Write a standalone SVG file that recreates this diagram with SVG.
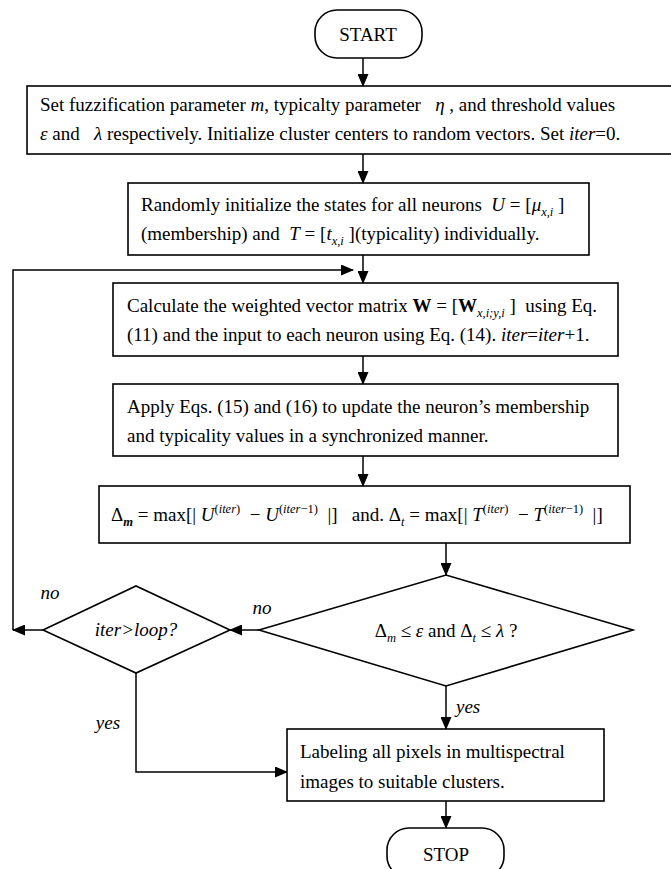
<svg xmlns="http://www.w3.org/2000/svg" width="671" height="869" viewBox="0 0 671 869">
<defs>
<marker id="ah" markerWidth="13" markerHeight="11" refX="12" refY="5.5" orient="auto" markerUnits="userSpaceOnUse">
<path d="M0,0 L13,5.5 L0,11 Z" fill="#000"/>
</marker>
<style>
.box{fill:#fff;stroke:#000;stroke-width:1.6}
.ln{fill:none;stroke:#000;stroke-width:1.5}
text{font-family:"Liberation Serif","Times New Roman",serif;font-size:19px;fill:#000;white-space:pre}
.i{font-style:italic}
.b{font-weight:bold}
.s{font-size:12.5px}
</style>
</defs>
<rect width="671" height="869" fill="#fff"/>

<g id="connectors">
<line class="ln" x1="363" y1="58" x2="363" y2="86" marker-end="url(#ah)"/>
<line class="ln" x1="363" y1="154" x2="363" y2="183" marker-end="url(#ah)"/>
<line class="ln" x1="363" y1="255" x2="363" y2="283" marker-end="url(#ah)"/>
<polyline class="ln" points="13,630 13,270 353,270" marker-end="url(#ah)"/>
<line class="ln" x1="363" y1="356" x2="363" y2="384" marker-end="url(#ah)"/>
<line class="ln" x1="363" y1="456" x2="363" y2="486" marker-end="url(#ah)"/>
<line class="ln" x1="446" y1="543" x2="446" y2="575" marker-end="url(#ah)"/>
<line class="ln" x1="259" y1="630" x2="230" y2="630" marker-end="url(#ah)"/>
<line class="ln" x1="43" y1="630" x2="13" y2="630" marker-end="url(#ah)"/>
<polyline class="ln" points="136,673 136,772 287,772" marker-end="url(#ah)"/>
<line class="ln" x1="446" y1="686" x2="446" y2="729" marker-end="url(#ah)"/>
<line class="ln" x1="446" y1="801" x2="446" y2="828" marker-end="url(#ah)"/>
<text class="i" x="262" y="614" text-anchor="middle">no</text>
<text class="i" x="50" y="599" text-anchor="middle">no</text>
<text class="i" x="108" y="729" text-anchor="middle">yes</text>
<text class="i" x="456" y="713">yes</text>
</g>

<g id="start">
<rect class="box" x="315" y="10" width="107" height="48" rx="22" ry="22"/>
<text x="368" y="41" text-anchor="middle">START</text>
</g>

<g id="init-params">
<rect class="box" x="27" y="86" width="680" height="68"/>
<text x="40" y="111">Set fuzzification parameter <tspan class="i">m</tspan>, typicalty parameter   <tspan class="i">η</tspan> , and threshold values</text>
<text x="40" y="140"><tspan class="i">ε</tspan> and   <tspan class="i">λ</tspan> respectively. Initialize cluster centers to random vectors. Set <tspan class="i">iter</tspan>=0.</text>
</g>

<g id="init-states">
<rect class="box" x="128" y="183" width="461" height="72"/>
<text x="141" y="211">Randomly initialize the states for all neurons  <tspan class="i">U</tspan> = [<tspan class="i">μ</tspan><tspan class="i s" dy="5">x,i</tspan><tspan dy="-5"> ]</tspan></text>
<text x="141" y="240">(membership) and  <tspan class="i">T</tspan> = [<tspan class="i">t</tspan><tspan class="i s" dy="5">x,i</tspan><tspan dy="-5"> ](typicality) individually.</tspan></text>
</g>

<g id="calc-weights">
<rect class="box" x="113" y="283" width="505" height="73"/>
<text x="127" y="312">Calculate the weighted vector matrix <tspan class="b">W</tspan> = [<tspan class="b">W</tspan><tspan class="i s" dy="5">x,i;y,i</tspan><tspan dy="-5"> ]  using Eq.</tspan></text>
<text x="127" y="341">(11) and the input to each neuron using Eq. (14). <tspan class="i">iter</tspan>=<tspan class="i">iter</tspan>+1.</text>
</g>

<g id="apply-eqs">
<rect class="box" x="113" y="384" width="505" height="72"/>
<text x="127" y="413">Apply Eqs. (15) and (16) to update the neuron’s membership</text>
<text x="127" y="442">and typicality values in a synchronized manner.</text>
</g>

<g id="delta">
<rect class="box" x="99" y="486" width="531" height="57"/>
<text x="111" y="521">Δ<tspan class="i s b" dy="5">m</tspan><tspan dy="-5"> = max[| </tspan><tspan class="i">U</tspan><tspan class="s" dy="-8">(</tspan><tspan class="i s">iter</tspan><tspan class="s">)</tspan><tspan dy="8">  − </tspan><tspan class="i">U</tspan><tspan class="s" dy="-8">(</tspan><tspan class="i s">iter</tspan><tspan class="s">−1)</tspan><tspan dy="8">  |]   and. Δ</tspan><tspan class="i s" dy="5">t</tspan><tspan dy="-5"> = max[| </tspan><tspan class="i">T</tspan><tspan class="s" dy="-8">(</tspan><tspan class="i s">iter</tspan><tspan class="s">)</tspan><tspan dy="8">  − </tspan><tspan class="i">T</tspan><tspan class="s" dy="-8">(</tspan><tspan class="i s">iter</tspan><tspan class="s">−1)</tspan><tspan dy="8">  |]</tspan></text>
</g>

<g id="converged">
<polygon class="box" points="259,630 446,575 633,630 446,686"/>
<text x="446" y="637" text-anchor="middle">Δ<tspan class="i s" dy="5">m</tspan><tspan dy="-5"> ≤ </tspan><tspan class="i">ε</tspan> and Δ<tspan class="i s" dy="5">t</tspan><tspan dy="-5"> ≤ </tspan><tspan class="i">λ</tspan> ?</text>
</g>

<g id="iter-loop">
<polygon class="box" points="43,630 136,586 230,630 136,673"/>
<text class="i" x="136" y="636" text-anchor="middle">iter&gt;loop?</text>
</g>

<g id="labeling">
<rect class="box" x="287" y="729" width="317" height="72"/>
<text x="300" y="758">Labeling all pixels in multispectral</text>
<text x="300" y="788">images to suitable clusters.</text>
</g>

<g id="stop">
<rect class="box" x="387" y="828" width="117" height="50" rx="22" ry="22"/>
<text x="446" y="861" text-anchor="middle">STOP</text>
</g>
</svg>
